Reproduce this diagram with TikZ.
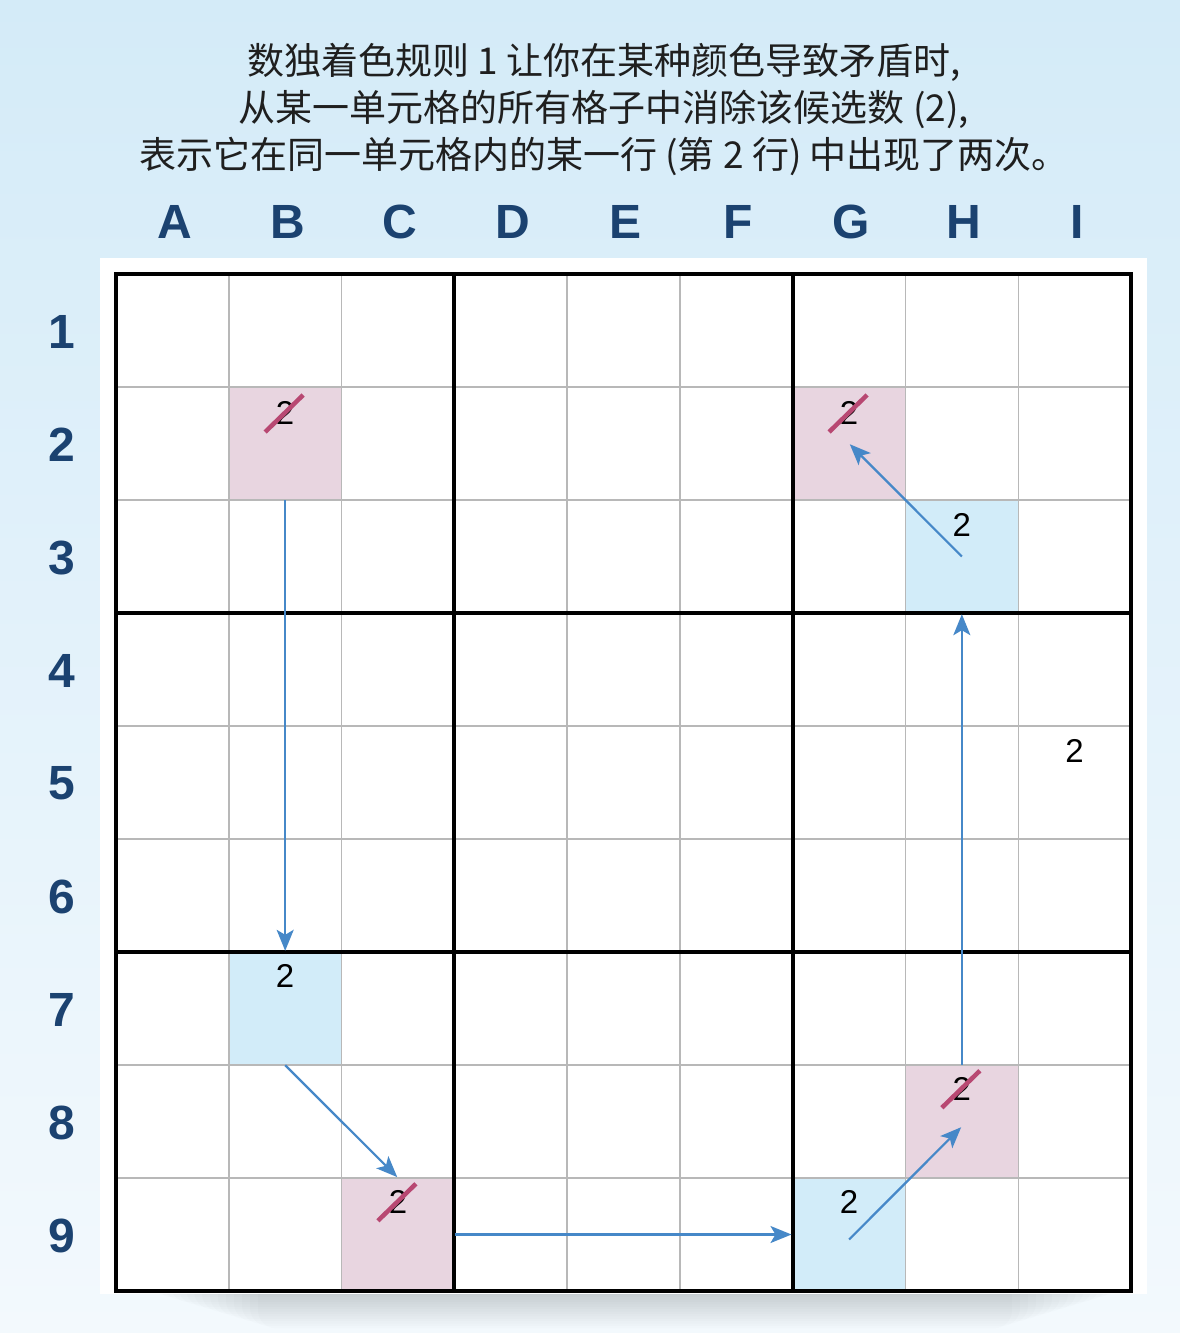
\documentclass[tikz,border=0pt]{standalone}
\usepackage{fontspec}
\setmainfont{Liberation Sans}
\newfontfamily\cjk{Noto Sans CJK SC}
\usetikzlibrary{arrows.meta}
\definecolor{bgtop}{RGB}{212,235,248}
\definecolor{bgbot}{RGB}{243,249,253}
\definecolor{navy}{RGB}{27,66,112}
\definecolor{pinkfill}{RGB}{232,213,224}
\definecolor{bluefill}{RGB}{210,236,249}
\definecolor{strikecol}{RGB}{184,72,114}
\definecolor{linkcol}{RGB}{70,136,200}

\begin{document}
\begin{tikzpicture}[x=1pt,y=-1pt,
  title/.style={font=\cjk\fontsize{37}{47}\selectfont, text=black!88, align=center},
  axislabel/.style={font=\fontsize{48}{48}\selectfont\bfseries, text=navy},
  cell/.style={minimum width=112.78pt, minimum height=113pt, inner sep=0pt},
  pinkbox/.style={cell, fill=pinkfill},
  bluebox/.style={cell, fill=bluefill},
  digit/.style={font=\fontsize{33}{33}\selectfont, text=black},
  thinline/.style={draw=black!28, line width=1.5pt},
  thickline/.style={draw=black, line width=4pt, line cap=rect},
  strikeline/.style={strikecol, line width=4.5pt},
  link/.style={linkcol, line width=2.2pt, -{Stealth[length=21pt, width=17pt, inset=5pt]}, shorten >=1pt}]
   \useasboundingbox (0,0) rectangle (1180,1333);
   \fill[top color=bgtop, bottom color=bgbot] (0,0) rectangle (1180,1333);

   % soft shadow under the board
   \foreach \k in {1,...,16}
      \fill[black, opacity=0.012, rounded corners=18pt] (130+\k*8,1270) rectangle (1140-\k*8,1290+\k*2.4);
   \fill[white] (100,258) rectangle (1147,1294);

   \node[title] (heading) at (604,109) {数独着色规则 1 让你在某种颜色导致矛盾时,\\从某一单元格的所有格子中消除该候选数 (2),\\表示它在同一单元格内的某一行 (第 2 行) 中出现了两次。};

 \begin{scope}[shift={(116,274)}, x=112.78pt, y=-113pt]
   % coloured cells
   \node[pinkbox] (B2) at (1.5,1.5) {};
   \node[pinkbox] (G2) at (6.5,1.5) {};
   \node[bluebox] (H3) at (7.5,2.5) {};
   \node[bluebox] (B7) at (1.5,6.5) {};
   \node[pinkbox] (H8) at (7.5,7.5) {};
   \node[pinkbox] (C9) at (2.5,8.5) {};
   \node[bluebox] (G9) at (6.5,8.5) {};

   % board
   \foreach \i in {1,2,4,5,7,8} {
      \draw[thinline] (\i,0) -- (\i,9);
      \draw[thinline] (0,\i) -- (9,\i);
   }
   \foreach \i in {0,3,6,9} {
      \draw[thickline] (\i,0) -- (\i,9);
      \draw[thickline] (0,\i) -- (9,\i);
   }

   % labels
   \foreach \c [count=\i] in {A,...,I}
      \node[axislabel] (col-\c) at (\i-0.48,-0.46) {\c};
   \foreach \r in {1,...,9}
      \node[axislabel] (row-\r) at (-0.48,\r-0.49) {\r};

   % candidates
   \node[digit] (d-B2) at (1.5,1.23) {2};
   \node[digit] (d-G2) at (6.5,1.23) {2};
   \node[digit] (d-H3) at (7.5,2.22) {2};
   \node[digit] (d-I5) at (8.5,4.22) {2};
   \node[digit] (d-B7) at (1.5,6.21) {2};
   \node[digit] (d-H8) at (7.5,7.21) {2};
   \node[digit] (d-C9) at (2.5,8.21) {2};
   \node[digit] (d-G9) at (6.5,8.21) {2};

   \foreach \n in {d-B2,d-G2,d-H8,d-C9}
      \draw[strikeline] ([shift={(-20pt,-19pt)}]\n.center) -- ([shift={(18pt,18pt)}]\n.center);

   % colour chain
   \draw[link] (B2.south) -- (B7.north);
   \draw[link] (B7.south) -- (C9.north);
   \draw[link] (C9.east) -- (G9.west);
   \draw[link] ([yshift=-5pt]G9.center) -- ([yshift=-5pt]H8.center);
   \draw[link] (H8.north) -- (H3.south);
   \draw[link] (H3.center) -- (G2.center);
 \end{scope}
\end{tikzpicture}
\end{document}
